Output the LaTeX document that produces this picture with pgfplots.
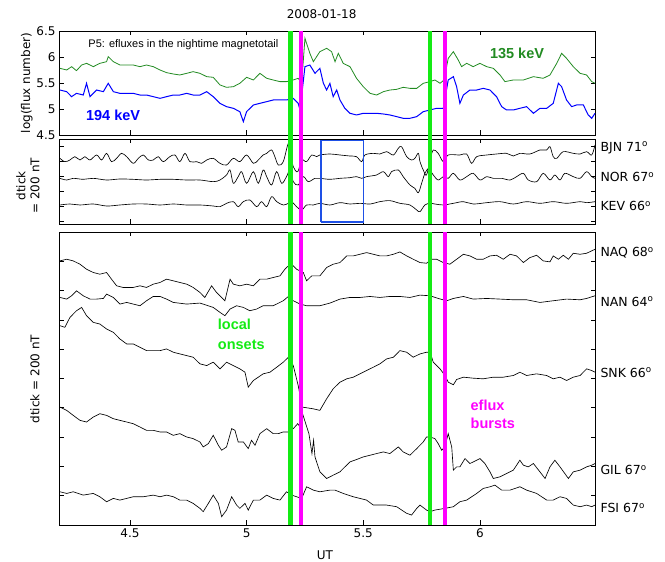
\documentclass[border=0pt]{standalone}
\usepackage{pgfplots}
\pgfplotsset{compat=1.18}
\usepackage{fontspec}
\setmainfont{DejaVu Sans}
\newfontfamily\arial{Liberation Sans}
\definecolor{dgreen}{RGB}{34,139,34}
\definecolor{lgreen}{RGB}{20,235,20}
\definecolor{mag}{RGB}{255,0,255}
\definecolor{boxblue}{RGB}{30,80,230}
\pgfplotsset{
  panel/.style={scale only axis, width=536pt, xmin=4.196, xmax=6.493,
    xtick={4.5,5,5.5,6}, tick align=inside, tick pos=both, clip=false,
    axis line style={line width=0.8pt}, major tick length=4.5pt,
    every tick/.style={black, line width=0.6pt},
    tick label style={font=\fontsize{12}{14}\selectfont},
    /pgf/number format/assume math mode=true, anchor=south west},
  trace/.style={black, line width=0.65pt, no markers},
  vg/.style={lgreen, line width=4.3pt, no markers},
  vm/.style={mag, line width=4.3pt, no markers},
}
\tikzset{stat/.style={anchor=west, font=\fontsize{12.5}{14}\selectfont, xshift=2pt}}
\begin{document}
\begin{tikzpicture}
\useasboundingbox (0,0) rectangle (665pt,562pt);
% ---------------- top panel ----------------
\begin{axis}[panel, at={(59pt,427pt)}, height=104pt, ymin=4.5, ymax=6.5,
  ytick={4.5,5,5.5,6,6.5}, xticklabels={}]
\addplot[dgreen, line width=0.8pt] coordinates {(4.200,5.782)(4.229,5.750)(4.250,5.814)(4.271,5.737)(4.293,5.846)(4.314,5.878)(4.343,5.814)(4.371,5.878)(4.400,5.910)(4.407,6.006)(4.429,5.910)(4.457,5.846)(4.486,5.846)(4.514,5.846)(4.543,5.814)(4.571,5.846)(4.600,5.814)(4.629,5.750)(4.657,5.699)(4.686,5.673)(4.714,5.654)(4.743,5.686)(4.771,5.718)(4.800,5.686)(4.829,5.622)(4.857,5.609)(4.886,5.462)(4.914,5.417)(4.943,5.429)(4.971,5.494)(5.000,5.609)(5.029,5.558)(5.057,5.686)(5.086,5.590)(5.114,5.558)(5.143,5.526)(5.171,5.526)(5.200,5.558)(5.221,5.590)(5.236,5.506)(5.250,6.359)(5.271,6.071)(5.286,5.910)(5.314,6.103)(5.343,6.167)(5.364,6.103)(5.379,5.910)(5.393,6.071)(5.414,5.878)(5.443,5.814)(5.471,5.590)(5.500,5.429)(5.529,5.301)(5.557,5.269)(5.586,5.333)(5.614,5.365)(5.643,5.378)(5.671,5.417)(5.700,5.397)(5.729,5.397)(5.757,5.494)(5.786,5.526)(5.807,5.558)(5.829,5.494)(5.846,5.558)(5.864,5.974)(5.886,6.103)(5.907,5.942)(5.921,5.814)(5.943,5.878)(5.971,5.814)(6.000,5.878)(6.029,5.814)(6.057,5.782)(6.086,5.654)(6.107,5.526)(6.143,5.558)(6.186,5.558)(6.229,5.622)(6.271,5.590)(6.300,5.654)(6.329,5.878)(6.350,6.071)(6.371,5.974)(6.400,5.814)(6.429,5.686)(6.457,5.654)(6.479,5.526)(6.493,5.494)};
\addplot[blue, line width=1pt] coordinates {(4.200,5.365)(4.229,5.333)(4.250,5.237)(4.271,5.301)(4.300,5.269)(4.314,5.494)(4.329,5.237)(4.357,5.365)(4.386,5.333)(4.407,5.494)(4.429,5.333)(4.457,5.301)(4.486,5.301)(4.514,5.301)(4.543,5.269)(4.571,5.269)(4.600,5.237)(4.629,5.205)(4.657,5.237)(4.686,5.269)(4.714,5.269)(4.743,5.301)(4.771,5.269)(4.800,5.269)(4.829,5.333)(4.857,5.237)(4.886,5.109)(4.914,5.045)(4.943,5.013)(4.971,4.949)(4.986,4.756)(5.000,4.949)(5.029,5.077)(5.057,5.109)(5.086,5.141)(5.114,5.173)(5.143,5.173)(5.171,5.173)(5.200,5.205)(5.221,5.109)(5.229,4.981)(5.250,5.814)(5.271,5.846)(5.293,5.686)(5.314,5.782)(5.329,5.494)(5.343,5.365)(5.357,5.494)(5.371,5.237)(5.386,5.365)(5.400,5.173)(5.421,5.013)(5.443,4.917)(5.471,4.885)(5.500,4.917)(5.529,4.917)(5.557,4.917)(5.586,4.904)(5.614,4.885)(5.643,4.853)(5.671,4.821)(5.700,4.821)(5.729,4.853)(5.757,4.949)(5.786,4.981)(5.814,5.013)(5.843,5.013)(5.864,5.558)(5.886,5.622)(5.900,5.429)(5.914,5.109)(5.929,5.269)(5.957,5.365)(5.986,5.365)(6.014,5.397)(6.043,5.365)(6.071,5.237)(6.093,5.045)(6.114,4.981)(6.143,4.981)(6.171,5.013)(6.200,5.045)(6.229,4.917)(6.257,5.013)(6.286,5.013)(6.314,5.109)(6.336,5.494)(6.350,5.429)(6.371,5.173)(6.393,5.045)(6.414,5.077)(6.443,5.077)(6.464,4.885)(6.479,4.821)(6.493,4.917)};
\addplot[vg] coordinates {(5.188,4.42)(5.188,6.5)};
\addplot[vm] coordinates {(5.234,4.42)(5.234,6.5)};
\addplot[vg] coordinates {(5.787,4.42)(5.787,6.5)};
\addplot[vm] coordinates {(5.850,4.42)(5.850,6.5)};
\node[anchor=west, font=\arial\fontsize{11}{13}\selectfont] at (axis cs:4.307,6.23) {P5: efluxes in the nightime magnetotail};
\node[anchor=west, font=\arial\bfseries\fontsize{14.5}{16}\selectfont, text=blue] at (axis cs:4.297,4.885) {194 keV};
\node[anchor=west, font=\arial\bfseries\fontsize{14.5}{16}\selectfont, text=dgreen] at (axis cs:6.028,6.077) {135 keV};
\node[font=\fontsize{12}{14}\selectfont] at (rel axis cs:0.49,1.16) {2008-01-18};
\node[rotate=90, font=\fontsize{12}{14}\selectfont] at (rel axis cs:-0.06,0.5) {log(flux number)};
\end{axis}
% ---------------- middle panel ----------------
\begin{axis}[panel, at={(59pt,338pt)}, height=85pt, ymin=0, ymax=5.667,
  ytick={0.2,1.2,2.2,3.2,4.2,5.2}, xticklabels={}, yticklabels={}]
\addplot[trace, smooth, tension=0.55] coordinates {(4.200,4.378)(4.221,4.156)(4.243,4.267)(4.264,4.489)(4.286,4.267)(4.307,4.489)(4.329,4.267)(4.357,4.600)(4.379,4.267)(4.400,4.711)(4.421,4.156)(4.443,4.378)(4.464,4.711)(4.486,4.489)(4.514,4.044)(4.536,4.378)(4.557,4.600)(4.579,4.267)(4.600,4.267)(4.621,4.489)(4.643,4.156)(4.671,4.489)(4.693,4.600)(4.714,4.156)(4.736,4.711)(4.757,4.156)(4.786,4.156)(4.807,4.044)(4.829,4.267)(4.857,4.378)(4.886,4.044)(4.914,3.933)(4.943,4.378)(4.971,4.156)(5.000,4.600)(5.029,4.044)(5.050,4.267)(5.071,4.600)(5.086,4.711)(5.107,4.933)(5.121,4.489)(5.136,3.933)(5.157,4.156)(5.179,5.378)(5.189,4.711)(5.200,3.822)(5.219,3.489)(5.236,4.267)(5.257,4.156)(5.279,4.600)(5.300,4.489)(5.314,4.600)(5.357,4.667)(5.400,4.600)(5.443,4.533)(5.471,4.489)(5.493,4.156)(5.507,4.600)(5.543,4.711)(5.571,4.667)(5.600,4.822)(5.629,4.600)(5.650,5.044)(5.664,5.156)(5.686,4.489)(5.707,4.267)(5.721,4.378)(5.736,4.711)(5.743,4.156)(5.757,3.600)(5.771,3.267)(5.786,4.267)(5.800,4.933)(5.821,4.711)(5.843,4.156)(5.864,4.600)(5.914,4.600)(5.943,4.667)(5.964,4.044)(5.986,4.489)(6.029,4.600)(6.071,4.667)(6.114,4.711)(6.143,4.533)(6.171,4.711)(6.214,4.667)(6.257,4.933)(6.286,4.933)(6.300,5.156)(6.314,4.489)(6.329,4.378)(6.357,4.822)(6.400,4.711)(6.429,4.667)(6.457,4.822)(6.479,4.600)(6.493,5.267)};
\addplot[trace, smooth, tension=0.55] coordinates {(4.200,3.044)(4.229,2.933)(4.257,3.044)(4.300,2.978)(4.343,3.044)(4.400,2.933)(4.457,3.000)(4.514,2.978)(4.571,2.933)(4.629,2.978)(4.686,2.978)(4.743,2.933)(4.800,2.933)(4.857,2.822)(4.886,2.933)(4.914,3.267)(4.929,3.600)(4.943,2.711)(4.964,3.156)(4.979,3.489)(5.000,2.711)(5.029,3.489)(5.050,2.711)(5.071,3.600)(5.086,3.156)(5.107,2.600)(5.129,3.489)(5.150,2.711)(5.171,3.156)(5.186,3.600)(5.200,2.822)(5.221,2.600)(5.243,3.156)(5.264,2.822)(5.293,3.044)(5.314,3.044)(5.357,2.978)(5.400,3.044)(5.443,3.089)(5.471,3.156)(5.493,3.044)(5.514,3.156)(5.557,3.267)(5.586,3.489)(5.607,3.156)(5.621,3.489)(5.650,3.600)(5.671,3.156)(5.700,2.600)(5.721,2.378)(5.736,2.089)(5.750,2.711)(5.764,3.378)(5.779,3.711)(5.786,3.600)(5.800,3.267)(5.821,2.933)(5.843,3.156)(5.864,3.044)(5.886,3.378)(5.914,2.933)(5.943,3.156)(5.971,3.378)(6.000,2.933)(6.029,3.156)(6.057,3.044)(6.093,3.044)(6.129,2.933)(6.157,3.156)(6.186,3.378)(6.207,2.933)(6.243,2.822)(6.271,3.378)(6.300,2.933)(6.321,3.267)(6.343,2.933)(6.364,3.378)(6.400,3.156)(6.429,3.044)(6.457,3.489)(6.479,3.156)(6.493,3.044)};
\addplot[trace, smooth, tension=0.55] coordinates {(4.200,1.267)(4.243,1.333)(4.286,1.267)(4.343,1.333)(4.400,1.200)(4.457,1.267)(4.514,1.333)(4.571,1.333)(4.629,1.267)(4.686,1.333)(4.743,1.267)(4.800,1.267)(4.857,1.200)(4.886,1.156)(4.914,1.378)(4.943,1.489)(4.964,1.156)(4.986,1.489)(5.014,1.600)(5.043,1.156)(5.064,1.489)(5.086,1.156)(5.107,1.822)(5.129,1.489)(5.157,1.267)(5.179,1.378)(5.193,1.489)(5.214,1.156)(5.236,0.933)(5.257,1.267)(5.286,1.267)(5.314,1.378)(5.357,1.267)(5.400,1.422)(5.443,1.333)(5.486,1.378)(5.529,1.333)(5.571,1.489)(5.614,1.556)(5.657,1.378)(5.700,1.267)(5.729,0.933)(5.743,0.822)(5.764,1.267)(5.786,1.378)(5.807,1.333)(5.843,1.267)(5.886,1.378)(5.929,1.489)(5.971,1.333)(6.029,1.422)(6.086,1.489)(6.143,1.333)(6.200,1.489)(6.257,1.378)(6.314,1.489)(6.371,1.378)(6.429,1.489)(6.457,1.422)(6.493,1.489)};
\addplot[boxblue, line width=1.5pt, no markers, sharp plot] coordinates {(5.319,0.12)(5.319,5.58)(5.5,5.58)(5.5,0.12)(5.319,0.12)};
\addplot[vg] coordinates {(5.188,0)(5.188,5.667)};
\addplot[vm] coordinates {(5.234,0)(5.234,5.667)};
\addplot[vg] coordinates {(5.787,0)(5.787,5.667)};
\addplot[vm] coordinates {(5.850,0)(5.850,5.667)};
\node[stat] at (axis cs:6.493,5.07) {BJN 71\textsuperscript{o}};
\node[stat] at (axis cs:6.493,3.13) {NOR 67\textsuperscript{o}};
\node[stat] at (axis cs:6.493,1.20) {KEV 66\textsuperscript{o}};
\node[rotate=90, align=center, font=\fontsize{12}{14}\selectfont] at (rel axis cs:-0.058,0.45) {dtick\\= 200 nT};
\end{axis}
% ---------------- bottom panel ----------------
\begin{axis}[panel, at={(59pt,37pt)}, height=293pt, ymin=0, ymax=10,
  ytick={1,2,...,9}, yticklabels={}]
\addplot[trace] coordinates {(4.200,9.014)(4.229,9.070)(4.257,9.014)(4.286,8.900)(4.314,8.730)(4.343,8.617)(4.371,8.560)(4.400,8.617)(4.421,8.390)(4.443,8.163)(4.471,8.107)(4.514,8.107)(4.543,8.163)(4.571,8.107)(4.600,8.220)(4.629,8.277)(4.657,8.390)(4.686,8.333)(4.714,8.277)(4.743,8.220)(4.771,8.107)(4.800,7.937)(4.821,7.766)(4.850,8.163)(4.871,7.937)(4.893,7.766)(4.907,7.653)(4.929,8.390)(4.943,8.220)(4.971,8.163)(5.000,8.220)(5.029,8.163)(5.057,8.390)(5.086,8.390)(5.114,8.447)(5.143,8.503)(5.164,8.730)(5.179,8.844)(5.193,8.900)(5.214,8.730)(5.243,8.617)(5.257,8.333)(5.279,8.503)(5.300,8.503)(5.314,8.503)(5.343,8.787)(5.371,8.900)(5.400,8.957)(5.429,9.184)(5.457,9.184)(5.486,9.240)(5.514,9.297)(5.543,9.240)(5.571,9.184)(5.600,9.184)(5.629,9.240)(5.657,9.320)(5.686,9.184)(5.714,9.070)(5.743,8.957)(5.771,8.934)(5.793,9.070)(5.814,9.070)(5.843,8.957)(5.871,8.900)(5.900,9.070)(5.929,9.240)(5.957,9.184)(5.986,9.070)(6.014,9.070)(6.043,9.184)(6.071,9.206)(6.100,9.070)(6.129,9.240)(6.157,9.184)(6.186,8.957)(6.214,9.127)(6.243,9.206)(6.271,9.014)(6.300,8.980)(6.314,9.184)(6.336,9.070)(6.357,9.206)(6.379,9.070)(6.400,9.274)(6.429,9.240)(6.457,9.274)(6.493,9.410)};
\addplot[trace] coordinates {(4.200,7.766)(4.229,7.710)(4.250,7.823)(4.271,7.993)(4.300,7.823)(4.329,7.710)(4.357,7.710)(4.386,7.732)(4.400,7.880)(4.429,7.766)(4.457,7.540)(4.486,7.596)(4.514,7.540)(4.543,7.483)(4.571,7.653)(4.600,7.800)(4.629,7.800)(4.657,7.710)(4.686,7.596)(4.743,7.540)(4.800,7.574)(4.857,7.426)(4.886,7.256)(4.907,7.143)(4.929,7.370)(4.957,7.483)(4.986,7.426)(5.014,7.313)(5.043,7.370)(5.071,7.483)(5.114,7.483)(5.157,7.653)(5.179,7.800)(5.200,7.653)(5.229,7.540)(5.257,7.483)(5.314,7.483)(5.357,7.574)(5.400,7.710)(5.443,7.766)(5.486,7.766)(5.529,7.800)(5.571,7.766)(5.614,7.800)(5.657,7.800)(5.700,7.766)(5.743,7.846)(5.786,7.823)(5.821,7.732)(5.857,7.653)(5.886,7.732)(5.929,7.800)(5.971,7.710)(6.029,7.732)(6.086,7.710)(6.143,7.687)(6.200,7.687)(6.257,7.596)(6.314,7.653)(6.371,7.710)(6.429,7.687)(6.457,7.732)(6.493,7.823)};
\addplot[trace] coordinates {(4.200,6.803)(4.221,6.746)(4.243,7.086)(4.271,7.313)(4.293,7.426)(4.314,7.143)(4.343,6.916)(4.371,6.859)(4.400,6.689)(4.429,6.576)(4.457,6.349)(4.486,6.179)(4.514,6.179)(4.543,6.066)(4.571,5.952)(4.600,5.952)(4.629,5.952)(4.657,6.009)(4.686,5.896)(4.714,5.839)(4.743,5.782)(4.771,5.726)(4.800,5.499)(4.829,5.442)(4.857,5.556)(4.886,5.329)(4.914,5.556)(4.943,5.442)(4.971,5.329)(4.993,5.215)(5.007,4.705)(5.029,4.932)(5.050,5.045)(5.071,5.159)(5.100,5.215)(5.129,5.385)(5.157,5.556)(5.179,5.726)(5.200,5.442)(5.221,4.762)(5.229,4.422)(5.237,4.025)(5.284,3.968)(5.314,3.912)(5.343,4.308)(5.371,4.649)(5.400,4.875)(5.429,4.989)(5.457,5.045)(5.486,5.159)(5.514,5.272)(5.543,5.385)(5.571,5.499)(5.600,5.669)(5.629,5.726)(5.657,5.952)(5.686,5.896)(5.714,5.726)(5.743,5.839)(5.771,5.896)(5.786,5.896)(5.800,5.556)(5.829,5.329)(5.850,5.102)(5.864,4.875)(5.886,4.785)(5.900,4.966)(5.929,5.045)(5.971,5.011)(6.014,4.989)(6.057,5.045)(6.100,5.045)(6.143,5.102)(6.171,5.215)(6.200,5.102)(6.243,5.159)(6.286,5.102)(6.314,4.989)(6.343,5.045)(6.371,4.932)(6.400,5.045)(6.429,5.102)(6.457,5.329)(6.479,5.272)(6.493,5.215)};
\addplot[trace] coordinates {(4.200,4.025)(4.229,3.912)(4.257,3.741)(4.286,3.571)(4.314,3.515)(4.343,3.685)(4.371,3.798)(4.400,3.741)(4.429,3.628)(4.457,3.571)(4.486,3.515)(4.514,3.458)(4.543,3.345)(4.571,3.231)(4.600,3.231)(4.629,3.175)(4.657,3.175)(4.686,3.061)(4.714,3.118)(4.743,3.005)(4.771,2.948)(4.800,2.834)(4.814,2.664)(4.836,2.778)(4.857,3.061)(4.879,2.721)(4.893,2.551)(4.914,2.664)(4.936,3.288)(4.950,3.231)(4.964,2.834)(4.986,2.834)(5.007,2.608)(5.021,2.891)(5.036,2.721)(5.057,3.118)(5.086,3.288)(5.114,3.118)(5.136,3.118)(5.157,3.175)(5.179,3.175)(5.200,3.288)(5.219,3.458)(5.229,3.345)(5.242,3.741)(5.267,3.118)(5.280,2.438)(5.287,2.891)(5.293,2.324)(5.314,1.814)(5.343,1.587)(5.371,1.701)(5.400,1.814)(5.414,1.927)(5.443,2.154)(5.471,2.234)(5.500,2.324)(5.529,2.381)(5.557,2.438)(5.586,2.494)(5.614,2.438)(5.650,2.664)(5.671,2.494)(5.700,2.381)(5.729,2.608)(5.757,2.834)(5.771,3.005)(5.786,3.005)(5.807,2.948)(5.821,2.778)(5.836,2.551)(5.850,2.664)(5.864,3.118)(5.879,2.664)(5.886,1.871)(5.900,1.984)(5.914,1.984)(5.936,2.268)(5.957,2.098)(5.986,2.211)(6.000,2.268)(6.021,2.098)(6.043,1.814)(6.057,1.587)(6.086,1.644)(6.114,1.757)(6.143,1.871)(6.171,2.211)(6.186,2.041)(6.207,1.984)(6.229,2.098)(6.257,1.814)(6.279,1.587)(6.300,1.984)(6.321,2.211)(6.343,1.984)(6.379,1.587)(6.400,1.814)(6.429,1.871)(6.457,1.984)(6.479,2.041)(6.493,2.098)};
\addplot[trace] coordinates {(4.200,1.134)(4.229,1.077)(4.257,1.134)(4.300,1.020)(4.343,1.077)(4.371,0.964)(4.400,0.794)(4.429,0.907)(4.457,0.850)(4.486,0.907)(4.514,0.964)(4.557,0.964)(4.600,1.020)(4.629,0.964)(4.657,1.020)(4.686,0.964)(4.714,0.850)(4.743,0.850)(4.771,0.737)(4.800,0.567)(4.814,0.454)(4.836,0.737)(4.857,1.020)(4.879,0.737)(4.893,0.283)(4.914,0.510)(4.936,0.964)(4.957,0.680)(4.971,0.567)(4.993,0.737)(5.007,0.510)(5.029,0.850)(5.057,0.850)(5.086,1.020)(5.114,0.907)(5.143,0.850)(5.171,1.134)(5.193,1.020)(5.214,0.964)(5.236,0.907)(5.257,1.304)(5.286,1.190)(5.314,1.134)(5.357,1.190)(5.379,1.190)(5.414,1.077)(5.457,0.964)(5.486,0.907)(5.514,0.850)(5.543,0.680)(5.571,0.680)(5.600,0.680)(5.643,0.624)(5.686,0.397)(5.707,0.340)(5.729,0.567)(5.743,0.680)(5.771,0.510)(5.786,0.454)(5.807,0.510)(5.850,0.567)(5.886,0.624)(5.914,0.794)(5.943,0.850)(5.986,1.077)(6.014,1.247)(6.043,1.304)(6.064,1.361)(6.093,1.190)(6.129,1.190)(6.171,1.304)(6.200,1.190)(6.243,1.077)(6.286,0.850)(6.314,0.850)(6.343,0.964)(6.371,0.907)(6.400,0.680)(6.429,0.624)(6.457,0.680)(6.479,0.624)(6.493,0.680)};
\addplot[vg] coordinates {(5.188,0)(5.188,10)};
\addplot[vm] coordinates {(5.234,0)(5.234,10)};
\addplot[vg] coordinates {(5.787,0)(5.787,10)};
\addplot[vm] coordinates {(5.850,0)(5.850,10)};
\node[stat] at (axis cs:6.493,9.29) {NAQ 68\textsuperscript{o}};
\node[stat] at (axis cs:6.493,7.62) {NAN 64\textsuperscript{o}};
\node[stat] at (axis cs:6.493,5.20) {SNK 66\textsuperscript{o}};
\node[stat] at (axis cs:6.493,1.87) {GIL 67\textsuperscript{o}};
\node[stat] at (axis cs:6.493,0.58) {FSI 67\textsuperscript{o}};
\node[anchor=west, align=left, text=lgreen, font=\arial\bfseries\fontsize{14.5}{19.5}\selectfont] at (axis cs:4.862,6.51) {local\\onsets};
\node[anchor=west, align=left, text=mag, font=\arial\bfseries\fontsize{14.5}{18.5}\selectfont] at (axis cs:5.945,3.78) {eflux\\bursts};
\node[rotate=90, font=\fontsize{12}{14}\selectfont] at (rel axis cs:-0.045,0.498) {dtick = 200 nT};
\node[font=\fontsize{12}{14}\selectfont] at (rel axis cs:0.496,-0.102) {UT};
\end{axis}
\end{tikzpicture}
\end{document}
